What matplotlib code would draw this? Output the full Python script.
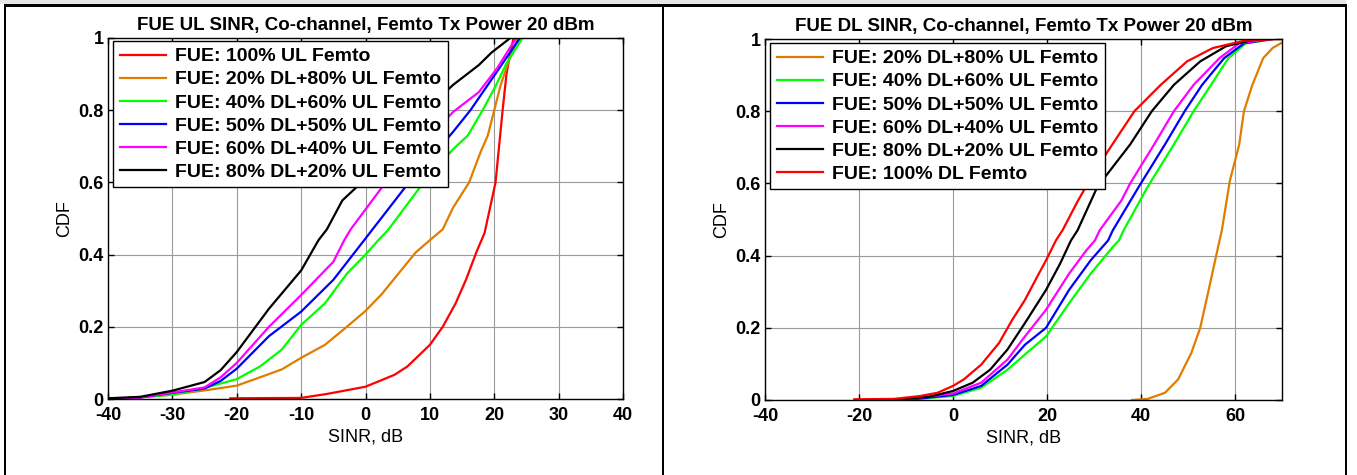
import matplotlib.pyplot as plt
from matplotlib.patches import Rectangle

plt.rcParams['font.family'] = ['Liberation Sans', 'DejaVu Sans']

# colours of the curves (matlab like)
RED = '#ff0000'
ORANGE = '#de7d00'
GREEN = '#00ff00'
BLUE = '#0000ff'
MAGENTA = '#ff00ff'
BLACK = '#000000'

# ---- left plot: FUE UL SINR ----
ul_labels = ["FUE: 100% UL Femto", "FUE: 20% DL+80% UL Femto", "FUE: 40% DL+60% UL Femto",
             "FUE: 50% DL+50% UL Femto", "FUE: 60% DL+40% UL Femto", "FUE: 80% DL+20% UL Femto"]

ul_100_x = [-21, -10, -6, 0, 4.5, 6.5, 10, 12, 14, 15.6, 17.3, 18.5, 20.2, 21.3, 21.9, 22.5, 23.0]
ul_100_y = [0.002, 0.003, 0.014, 0.034, 0.067, 0.09, 0.15, 0.2, 0.265, 0.33, 0.41, 0.46, 0.6, 0.8, 0.9, 0.96, 1.0]

ul_20_x = [-40, -34.6, -30, -24.5, -20, -16.4, -13, -10, -6.3, -2.9, 0, 2.5, 5.1, 7.8, 10, 12, 13.6,
           16.1, 17.9, 19, 20, 21, 22.7, 23.7]
ul_20_y = [0, 0.005, 0.012, 0.025, 0.037, 0.06, 0.082, 0.114, 0.15, 0.2, 0.244, 0.29, 0.347, 0.406, 0.44,
           0.47, 0.53, 0.6, 0.685, 0.73, 0.8, 0.87, 0.96, 1.0]

ul_40_x = [-40, -36.6, -30, -25.8, -20, -16.4, -13, -10, -6.3, -2.9, 0, 2, 3.5, 8.4, 13.5, 15.9, 18.2,
           20.3, 21.9, 24.4]
ul_40_y = [0, 0.003, 0.012, 0.027, 0.055, 0.09, 0.137, 0.205, 0.265, 0.347, 0.4, 0.44, 0.468, 0.585, 0.69,
           0.73, 0.8, 0.87, 0.93, 1.0]

ul_50_x = [-40, -35, -30, -25, -22.5, -20, -15, -10, -5, -0.2, 1.1, 6.1, 13.6, 16.3, 19, 24]
ul_50_y = [0, 0.004, 0.017, 0.029, 0.05, 0.084, 0.174, 0.242, 0.33, 0.44, 0.47, 0.585, 0.74, 0.8, 0.87, 1.0]

ul_60_x = [-40, -35, -30, -25, -22.5, -20, -15, -10, -5, -3.3, -2.3, 2.5, 13.6, 17.6, 20.4, 23.4]
ul_60_y = [0, 0.004, 0.018, 0.032, 0.06, 0.10, 0.2, 0.288, 0.38, 0.44, 0.47, 0.585, 0.795, 0.85, 0.915, 1.0]

ul_80_x = [-40, -35, -30, -25, -22.5, -20, -15, -10, -7.3, -6, -3.6, -1.5, 5, 10, 13.6, 17.6, 19.6, 22.5]
ul_80_y = [0.002, 0.006, 0.023, 0.047, 0.08, 0.13, 0.25, 0.356, 0.44, 0.47, 0.55, 0.585, 0.72, 0.81, 0.87,
           0.925, 0.96, 1.0]

# ---- right plot: FUE DL SINR ----
dl_labels = ["FUE: 20% DL+80% UL Femto", "FUE: 40% DL+60% UL Femto", "FUE: 50% DL+50% UL Femto",
             "FUE: 60% DL+40% UL Femto", "FUE: 80% DL+20% UL Femto", "FUE: 100% DL Femto"]

dl_20_x = [38.1, 41.4, 45.1, 47.9, 50.7, 52.6, 54.4, 56, 57.2, 58.9, 60.9, 61.9, 63.7, 66, 68, 70]
dl_20_y = [0, 0.003, 0.02, 0.057, 0.13, 0.2, 0.305, 0.4, 0.47, 0.607, 0.708, 0.8, 0.873, 0.947, 0.975, 0.99]

dl_40_x = [-10, 0, 6, 11.6, 15.3, 19.8, 24.7, 29.3, 34, 35.3, 36.3, 41.4, 47, 51.2, 54.9, 58.6, 62.3, 68.4]
dl_40_y = [0, 0.011, 0.034, 0.084, 0.126, 0.176, 0.268, 0.35, 0.424, 0.442, 0.47, 0.59, 0.708, 0.8, 0.873,
           0.947, 0.988, 1.0]

dl_50_x = [-10, 0, 6, 11.6, 15.3, 19.8, 24.7, 29.3, 33, 34, 39.5, 45.1, 49.3, 53, 57.7, 61.9, 67.9]
dl_50_y = [0, 0.014, 0.039, 0.098, 0.153, 0.2, 0.305, 0.387, 0.442, 0.47, 0.59, 0.708, 0.8, 0.873, 0.947,
           0.988, 1.0]

dl_60_x = [-11, 0, 6, 11.6, 15.3, 19.8, 24.7, 28.4, 30.2, 31.2, 35.8, 37.7, 42.8, 47, 51.2, 56.7, 60.9, 67.4]
dl_60_y = [0, 0.018, 0.048, 0.112, 0.176, 0.25, 0.35, 0.415, 0.442, 0.47, 0.552, 0.6, 0.708, 0.8, 0.873,
           0.947, 0.988, 1.0]

dl_80_x = [-12.6, -5.1, 0, 4.2, 7.9, 11.6, 15.3, 19.8, 22.8, 25.1, 26.5, 30.7, 37.7, 42.3, 47, 52.6, 58.1, 64.7]
dl_80_y = [0, 0.009, 0.025, 0.048, 0.084, 0.14, 0.213, 0.305, 0.378, 0.442, 0.47, 0.59, 0.708, 0.8, 0.873,
           0.938, 0.98, 1.0]

dl_100_x = [-21, -12.6, -7, -3.3, 0, 2.3, 6, 9.8, 12.6, 15.3, 18.1, 19.8, 21.9, 23.3, 26.5, 30, 33.5, 38.6,
            44.2, 49.8, 55.3, 61.9, 69.3]
dl_100_y = [0.002, 0.003, 0.011, 0.02, 0.039, 0.057, 0.098, 0.158, 0.222, 0.277, 0.346, 0.387, 0.442, 0.47,
            0.55, 0.63, 0.7, 0.8, 0.873, 0.938, 0.975, 0.995, 1.0]

ul_ticks = [-40, -30, -20, -10, 0, 10, 20, 30, 40]
dl_ticks = [-40, -20, 0, 20, 40, 60]
y_ticks = [0, 0.2, 0.4, 0.6, 0.8, 1]
y_ticklabels = ['0', '0.2', '0.4', '0.6', '0.8', '1']

W, H = 1357, 475


def px_rect(x0, y0, x1, y1):
    """ rectangle given in image pixels (origin top left) -> figure fraction """
    return (x0 / W, 1 - y1 / H), (x1 - x0) / W, (y1 - y0) / H


def style_axes(ax, title, xlim, xticks, legend_anchor):
    ax.set_xlim(xlim)
    ax.set_ylim(0, 1)
    ax.set_xticks(xticks)
    ax.set_xticklabels([str(t) for t in xticks], fontweight='bold', fontsize=13)
    ax.set_yticks(y_ticks)
    ax.set_yticklabels(y_ticklabels, fontweight='bold', fontsize=13)
    ax.tick_params(direction='in', length=4, width=1, top=True, right=True, pad=3)
    ax.tick_params(axis='x', pad=6)
    ax.grid(True, color='#9a9a9a', linewidth=0.8)
    for sp in ax.spines.values():
        sp.set_linewidth(1)
        sp.set_color('black')
    ax.set_title(title, fontweight='bold', fontsize=13.5, pad=6)
    ax.set_xlabel('SINR, dB', fontsize=13, labelpad=3)
    ax.set_ylabel('CDF', fontsize=13, labelpad=4)
    leg = ax.legend(loc='upper left', bbox_to_anchor=legend_anchor, borderaxespad=0,
                    prop={'weight': 'bold', 'size': 14}, fancybox=False, edgecolor='black',
                    framealpha=1, handlelength=2.4, handletextpad=0.45, labelspacing=0.28,
                    borderpad=0.35)
    leg.get_frame().set_linewidth(1)


fig = plt.figure(figsize=(W / 100, H / 100), dpi=100)

# table like frame around the two plots
fig.add_artist(Rectangle(*px_rect(0, 0, 1346, 4), transform=fig.transFigure, color='#e6e6e6', lw=0))
fig.add_artist(Rectangle(*px_rect(4, 4, 1347, 7), transform=fig.transFigure, color='black', lw=0))
for x in [4, 662, 1345]:
    fig.add_artist(Rectangle(*px_rect(x, 4, x + 2, 475), transform=fig.transFigure, color='black', lw=0))

ax1 = fig.add_axes([108 / W, 1 - 399 / H, 515 / W, 361 / H])
ax1.plot(ul_100_x, ul_100_y, color=RED, lw=1.6, label=ul_labels[0])
ax1.plot(ul_20_x, ul_20_y, color=ORANGE, lw=1.6, label=ul_labels[1])
ax1.plot(ul_40_x, ul_40_y, color=GREEN, lw=1.6, label=ul_labels[2])
ax1.plot(ul_50_x, ul_50_y, color=BLUE, lw=1.6, label=ul_labels[3])
ax1.plot(ul_60_x, ul_60_y, color=MAGENTA, lw=1.6, label=ul_labels[4])
ax1.plot(ul_80_x, ul_80_y, color=BLACK, lw=1.6, label=ul_labels[5])
style_axes(ax1, 'FUE UL SINR, Co-channel, Femto Tx Power 20 dBm', (-40, 40), ul_ticks,
           ((113 - 108) / 515, (399 - 41) / 361))

ax2 = fig.add_axes([765 / W, 1 - 400 / H, 517 / W, 361 / H])
ax2.plot(dl_20_x, dl_20_y, color=ORANGE, lw=1.6, label=dl_labels[0])
ax2.plot(dl_40_x, dl_40_y, color=GREEN, lw=1.6, label=dl_labels[1])
ax2.plot(dl_50_x, dl_50_y, color=BLUE, lw=1.6, label=dl_labels[2])
ax2.plot(dl_60_x, dl_60_y, color=MAGENTA, lw=1.6, label=dl_labels[3])
ax2.plot(dl_80_x, dl_80_y, color=BLACK, lw=1.6, label=dl_labels[4])
ax2.plot(dl_100_x, dl_100_y, color=RED, lw=1.6, label=dl_labels[5])
style_axes(ax2, 'FUE DL SINR, Co-channel, Femto Tx Power 20 dBm', (-40, 70), dl_ticks,
           ((770 - 765) / 517, (400 - 43) / 361))

fig.savefig('out.png', dpi=100)
